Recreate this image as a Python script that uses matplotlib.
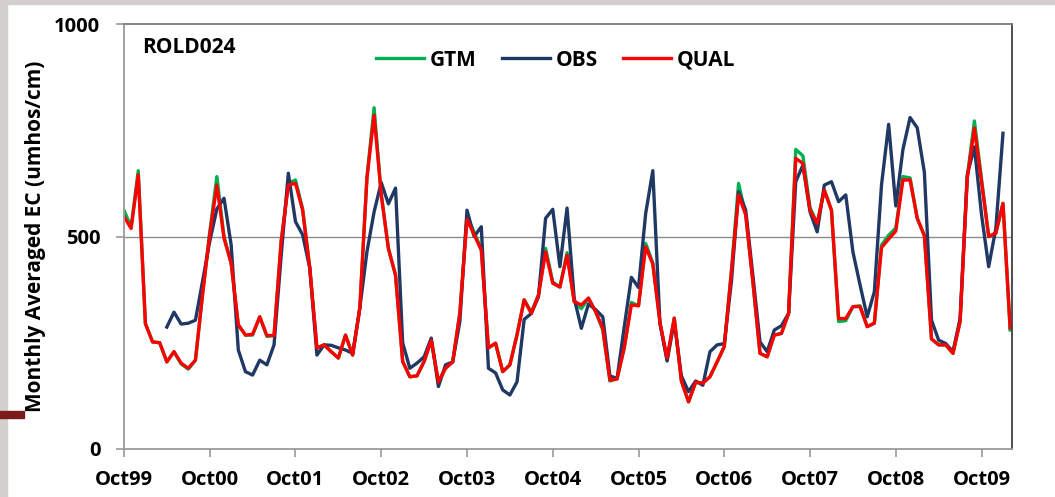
import numpy as np
import matplotlib

matplotlib.use("Agg")
import matplotlib.pyplot as plt
from matplotlib.patches import Rectangle

# Monthly averaged EC at ROLD024, Oct 1999 onwards (one value per month)
tick_labels = ["Oct99", "Oct00", "Oct01", "Oct02", "Oct03", "Oct04",
               "Oct05", "Oct06", "Oct07", "Oct08", "Oct09"]

gtm = [562, 522, 655, 295, 252, 250, 205, 229, 200, 188,
       209, 364, 510, 641, 500, 437, 292, 268, 268, 311,
       265, 267, 490, 625, 633, 565, 426, 238, 245, 229,
       214, 268, 221, 331, 640, 803, 600, 472, 409, 206,
       170, 172, 206, 256, 158, 190, 205, 320, 548, 510,
       470, 238, 249, 182, 198, 270, 351, 322, 362, 472,
       393, 381, 462, 347, 330, 355, 323, 280, 160, 165,
       238, 345, 337, 484, 438, 298, 210, 308, 160, 111,
       157, 155, 170, 205, 241, 420, 625, 551, 394, 225,
       217, 268, 272, 319, 705, 690, 568, 531, 609, 562,
       300, 302, 335, 337, 288, 296, 480, 503, 520, 641,
       638, 543, 502, 259, 245, 245, 225, 300, 640, 772,
       635, 500, 508, 578, 280]

nan = np.nan
obs = [nan, nan, nan, nan, nan, nan, 287, 322, 294, 296,
       303, 395, 488, 565, 590, 480, 233, 182, 174, 209,
       198, 245, 455, 649, 535, 504, 426, 221, 245, 244,
       238, 233, 225, 331, 464, 558, 627, 577, 614, 250,
       190, 202, 217, 261, 147, 198, 205, 300, 562, 500,
       523, 190, 179, 139, 127, 158, 305, 319, 358, 543,
       564, 429, 567, 355, 284, 341, 328, 311, 172, 166,
       287, 404, 380, 554, 655, 295, 207, 300, 172, 135,
       160, 150, 229, 245, 248, 394, 605, 562, 409, 252,
       229, 280, 290, 319, 629, 668, 558, 511, 621, 629,
       582, 598, 464, 386, 311, 370, 621, 764, 572, 705,
       780, 756, 651, 303, 256, 248, 229, 307, 645, 711,
       551, 429, 519, 743, nan]

qual = [547, 519, 645, 295, 252, 250, 205, 229, 202, 190,
        209, 364, 505, 621, 496, 437, 292, 268, 270, 311,
        267, 267, 488, 621, 625, 562, 426, 238, 245, 229,
        214, 268, 221, 331, 637, 786, 598, 472, 409, 206,
        170, 172, 206, 256, 158, 190, 205, 320, 540, 504,
        468, 238, 249, 182, 198, 268, 351, 319, 362, 464,
        390, 381, 456, 347, 339, 355, 323, 284, 162, 165,
        238, 339, 337, 476, 435, 298, 214, 308, 160, 111,
        157, 155, 170, 205, 241, 417, 598, 551, 394, 225,
        217, 268, 272, 319, 684, 672, 562, 531, 609, 562,
        307, 307, 335, 335, 288, 296, 474, 494, 513, 633,
        633, 543, 502, 259, 245, 245, 225, 300, 637, 755,
        629, 500, 508, 578, 285]

months = np.arange(len(qual))

plt.rcParams["font.family"] = ["Open Sans", "DejaVu Sans"]
plt.rcParams["font.weight"] = "bold"

fig = plt.figure(figsize=(10.55, 4.97), dpi=100, facecolor="white")

# slide decoration around the chart
fig.patches.append(Rectangle((0, 0.992), 1, 0.008, transform=fig.transFigure,
                             color="#d3cfcf", zorder=0))
fig.patches.append(Rectangle((0, 0), 0.0068, 1, transform=fig.transFigure,
                             color="#d3cfcf", zorder=0))
fig.patches.append(Rectangle((0, 0.159), 0.023, 0.014, transform=fig.transFigure,
                             color="#7b1c1c", zorder=1))

ax = fig.add_axes([0.1175, 0.0966, 0.842, 0.855])

ax.plot(months, gtm, color="#00b050", lw=2.4, label="GTM")
ax.plot(months, obs, color="#1f3864", lw=2.4, label="OBS")
ax.plot(months, qual, color="#ff0000", lw=2.4, label="QUAL")

ax.set_xlim(0, 124.3)
ax.set_ylim(0, 1000)
ax.set_yticks([0, 500, 1000])
ax.set_xticks(np.arange(0, 121, 12))
ax.set_xticklabels(tick_labels)
ax.axhline(500, color="#8c8c8c", lw=1, zorder=0)

ax.tick_params(axis="both", labelsize=14.5, colors="#9a9a9a", labelcolor="black",
               direction="out", length=6, width=1.2)
ax.tick_params(axis="x", pad=9)
ax.tick_params(axis="y", pad=11)

ax.spines["left"].set_color("#9a9a9a")
ax.spines["bottom"].set_color("#9a9a9a")
ax.spines["top"].set_color("#7a7a7a")
ax.spines["right"].set_color("#404040")
for s in ax.spines.values():
    s.set_linewidth(1.3)

ax.set_ylabel("Monthly Averaged EC (umhos/cm)", fontsize=15, fontweight="bold",
              labelpad=6)

ax.text(0.02, 0.945, "ROLD024", transform=ax.transAxes, fontsize=15,
        fontweight="bold", va="center", ha="left")

ax.legend(loc="center", bbox_to_anchor=(0.486, 0.915), ncol=3, frameon=False,
          prop={"size": 15, "weight": "bold"}, handlelength=2.3,
          handletextpad=0.3, columnspacing=1.2)

fig.savefig("out.png", dpi=100, facecolor=fig.get_facecolor())
